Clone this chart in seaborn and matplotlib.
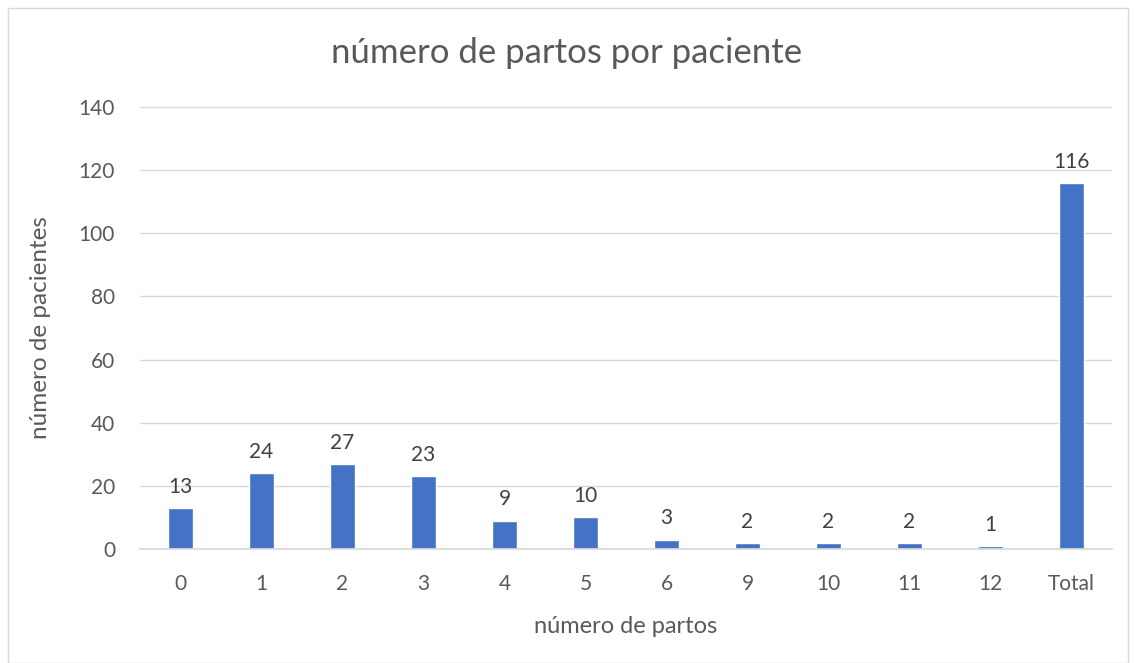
import matplotlib
matplotlib.use("Agg")
import matplotlib.pyplot as plt
import seaborn as sns
import pandas as pd
from matplotlib.patches import Rectangle

categories = ["0", "1", "2", "3", "4", "5", "6", "9", "10", "11", "12", "Total"]
values = [13, 24, 27, 23, 9, 10, 3, 2, 2, 2, 1, 116]
title = "número de partos por paciente"
xlabel = "número de partos"
ylabel = "número de pacientes"
yticks = [0, 20, 40, 60, 80, 100, 120, 140]

sns.set_theme(style="white")
plt.rcParams['font.family'] = ['Lato', 'DejaVu Sans']

df = pd.DataFrame({"cat": categories, "val": values})

fig = plt.figure(figsize=(11.34, 6.63), dpi=100)
ax = fig.add_axes([140/1134, 1-549/663, (1112-140)/1134, (549-107)/663])

sns.barplot(data=df, x="cat", y="val", color="#4472C4", width=0.32, ax=ax,
            saturation=1, order=categories)

ax.set_ylim(0, 140)
ax.set_yticks(yticks)
ax.yaxis.grid(True, color="#D9D9D9", linewidth=1)
ax.set_axisbelow(True)
for s in ["top", "right", "left"]:
    ax.spines[s].set_visible(False)
ax.spines["bottom"].set_color("#D9D9D9")
ax.tick_params(axis="x", colors="#595959", labelsize=15, length=0, pad=18)
ax.tick_params(axis="y", colors="#595959", labelsize=15, length=0, pad=18)
ax.set_xlabel(xlabel, fontsize=17, color="#595959", labelpad=16)
ax.set_ylabel(ylabel, fontsize=17.5, color="#595959", labelpad=20)

for p, v in zip(ax.patches, values):
    ax.annotate(str(v), (p.get_x() + p.get_width()/2, v), xytext=(0, 8),
                textcoords="offset points", ha="center", va="bottom",
                fontsize=15, color="#404040")

fig.text(0.5, 1-53/663, title, ha="center", va="center", fontsize=25, color="#595959")

fig.patches.append(Rectangle((8/1134, 0), (1128-8)/1134, 1-8/663, transform=fig.transFigure,
                             fill=False, edgecolor="#D9D9D9", linewidth=1))

fig.savefig("out.png", dpi=100)
